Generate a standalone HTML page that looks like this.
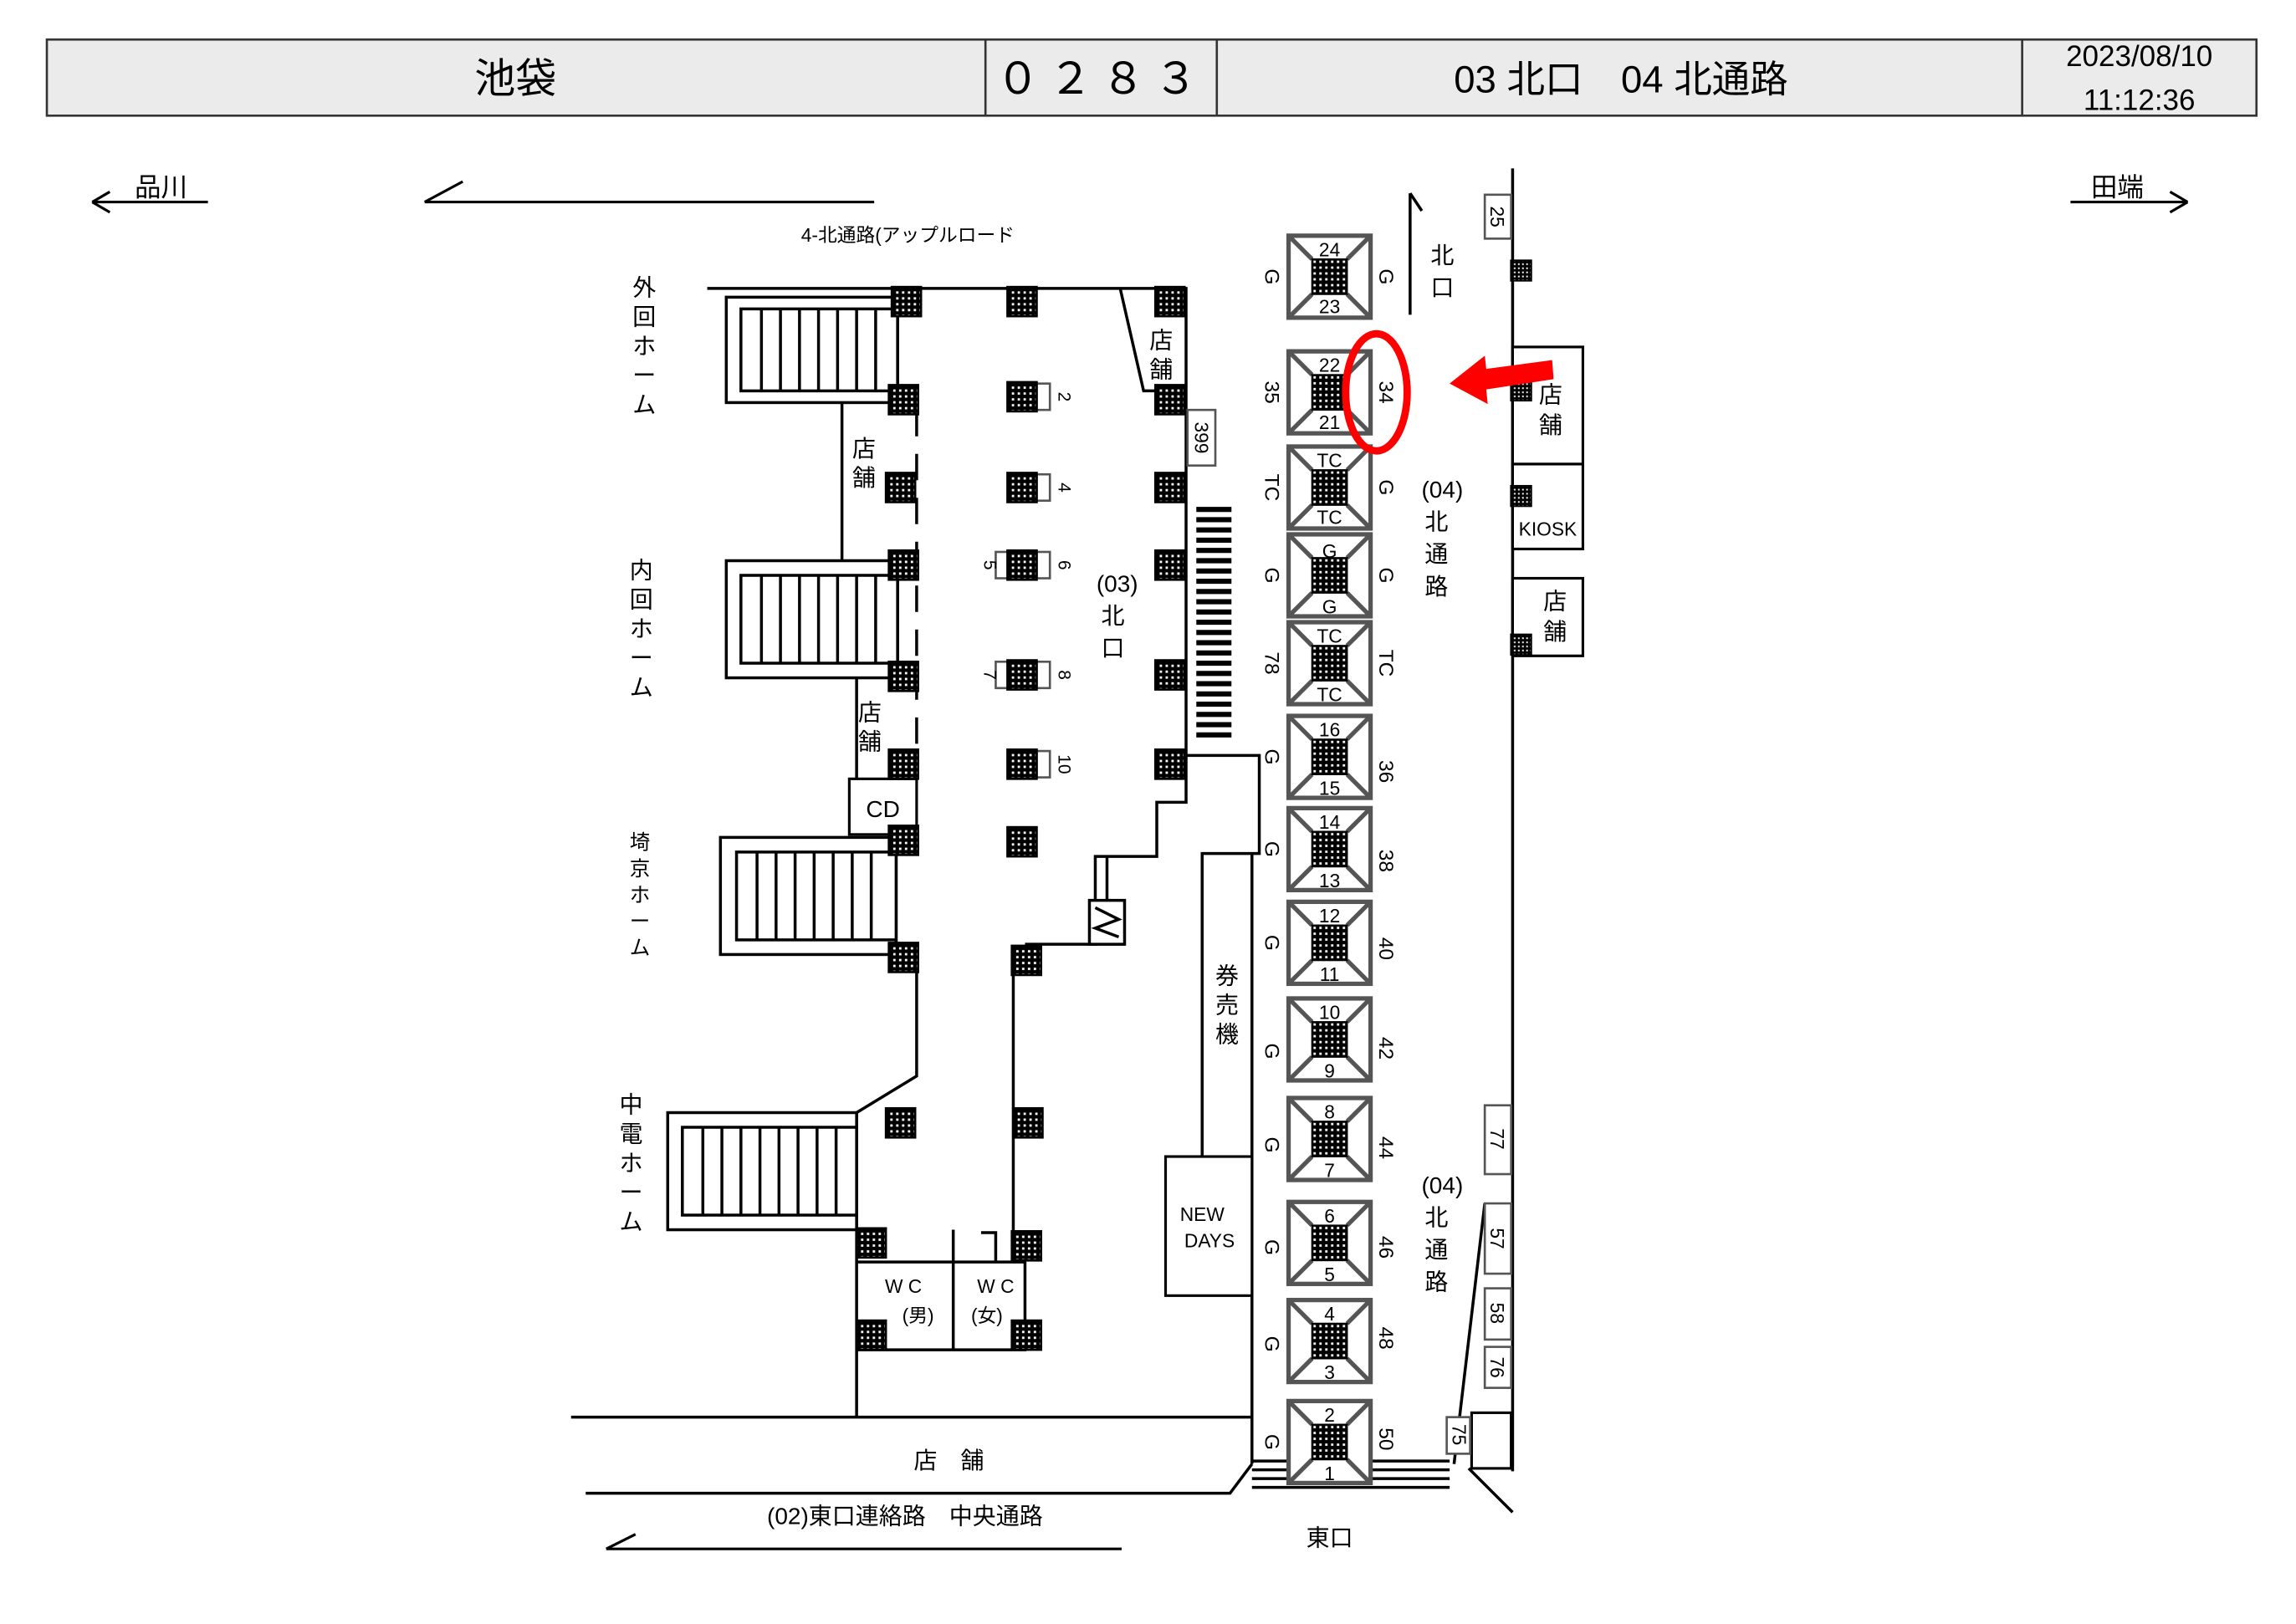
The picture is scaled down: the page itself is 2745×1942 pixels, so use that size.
<!DOCTYPE html>
<html><head><meta charset="utf-8"><style>
html,body{margin:0;padding:0;background:#fff}
svg{display:block}
text{font-family:"Liberation Sans","Noto Sans CJK JP",sans-serif;fill:#000}
</style></head><body>
<svg width="2745" height="1942" viewBox="0 0 1568 1109.3" preserveAspectRatio="none" xmlns="http://www.w3.org/2000/svg">
<defs>
<pattern id="dots" width="4" height="4" patternUnits="userSpaceOnUse"><rect width="4" height="4" fill="#000"/><rect x="1" y="1" width="1.6" height="1.6" fill="#fff"/></pattern>
<g id="p"><rect x="-10" y="-10" width="20" height="20" fill="url(#dots)" stroke="#000" stroke-width="1.5"/></g>
<g id="esc">
<rect x="-28" y="-28" width="56" height="56" fill="#fff" stroke="#555" stroke-width="3"/>
<path d="M-28,-28 L-12,-12 M28,-28 L12,-12 M-28,28 L-12,12 M28,28 L12,12" stroke="#555" stroke-width="3"/>
<rect x="-12" y="-12" width="24" height="24" fill="url(#dots)" stroke="#000"/>
</g>
</defs>
<rect width="1568" height="1109.3" fill="#fff"/>
<!-- header -->
<rect x="32" y="27" width="1509" height="52" fill="#ebebeb" stroke="#333" stroke-width="1.5"/>
<path d="M673,27V79M831,27V79M1381,27V79" stroke="#333" stroke-width="1.5"/>
<text x="352" y="63" font-size="28" text-anchor="middle">池袋</text>
<text x="752" y="64" font-size="30" text-anchor="middle" letter-spacing="6">０２８３</text>
<text x="1107" y="63" font-size="26" text-anchor="middle">03 北口　04 北通路</text>
<text x="1461" y="45" font-size="20" text-anchor="middle">2023/08/10</text>
<text x="1461" y="75" font-size="20" text-anchor="middle">11:12:36</text>
<!-- top direction -->
<g stroke="#000" stroke-width="1.8" fill="none">
<path d="M63,138H142M63,138l12,-7M63,138l12,7"/>
<path d="M1414,138H1494M1494,138l-12,-7M1494,138l-12,7"/>
<path d="M290,138H597M290,138l26,-14"/>
<path d="M414,1058H766M414,1058l20,-10"/>
</g>
<text x="110" y="134" font-size="18" text-anchor="middle">品川</text>
<text x="1446" y="134" font-size="18" text-anchor="middle">田端</text>
<text x="620" y="165" font-size="13" text-anchor="middle">4-北通路(アップルロード</text>
<!-- walls -->
<g stroke="#000" stroke-width="2" fill="none">
<path d="M483,197H810V516"/>
<path d="M765,197L781,267H810"/>
<path d="M575,275V383M585,463V540M626,652V735L585,760V968M390,968H855"/>
<path d="M692,660V850M700,645H748V585H790V548H810V516"/>
<path d="M810,516H860V583H821V790M855,583V1000"/>
<path d="M400,1020H840L855,1000"/>
<path d="M585,862H700V922H585M651,840V922M630,862H680M670,842H680V862"/>
<path d="M1033,115V1005M963,132V215M963,132l8,12"/>
<path d="M1014,822L993,1000M1003,1003L1033,1033"/>
</g>
<path d="M626,280V520" stroke="#000" stroke-width="2" stroke-dasharray="18,12"/>
<!-- boxes -->
<g stroke="#000" stroke-width="1.8" fill="#fff">
<rect x="580" y="532" width="46" height="38"/>
<rect x="796" y="790" width="59" height="95"/>
<rect x="1033" y="237" width="48" height="80"/>
<rect x="1033" y="317" width="48" height="58"/>
<rect x="1033" y="395" width="48" height="53"/>
<rect x="1005" y="965" width="27" height="38"/>
</g>
<g stroke="#555" stroke-width="1.5" fill="#fff">
<rect x="811" y="280" width="19" height="38"/>
<rect x="1014" y="133" width="18" height="30"/>
<rect x="1014" y="755" width="18" height="47"/>
<rect x="1014" y="822" width="18" height="48"/>
<rect x="1014" y="880" width="18" height="35"/>
<rect x="1014" y="920" width="18" height="28"/>
<rect x="988" y="968" width="16" height="25"/>
</g>
<g font-size="13">
<text transform="translate(816,299) rotate(90)" text-anchor="middle">399</text>
<text transform="translate(1018,148) rotate(90)" text-anchor="middle">25</text>
<text transform="translate(1018,778) rotate(90)" text-anchor="middle">77</text>
<text transform="translate(1018,846) rotate(90)" text-anchor="middle">57</text>
<text transform="translate(1018,897) rotate(90)" text-anchor="middle">58</text>
<text transform="translate(1018,934) rotate(90)" text-anchor="middle">76</text>
<text transform="translate(992,980) rotate(90)" text-anchor="middle">75</text>
</g>
<!-- stairs blocks -->
<g stroke="#000" stroke-width="2" fill="#fff">
<rect x="496" y="203" width="117" height="72"/><rect x="506" y="211" width="107" height="56"/>
<rect x="496" y="383" width="117" height="80"/><rect x="506" y="393" width="107" height="60"/>
<rect x="492" y="572" width="120" height="80"/><rect x="503" y="582" width="109" height="60"/>
<rect x="456" y="760" width="129" height="80"/><rect x="466" y="770" width="119" height="60"/>
</g>
<g stroke="#000" stroke-width="2">
<path d="M520,211V267M533,211V267M546,211V267M559,211V267M572,211V267M585,211V267M598,211V267"/>
<path d="M520,393V453M533,393V453M546,393V453M559,393V453M572,393V453M585,393V453M598,393V453"/>
<path d="M517,582V642M530,582V642M543,582V642M556,582V642M569,582V642M582,582V642M595,582V642"/>
<path d="M480,770V830M493,770V830M506,770V830M519,770V830M532,770V830M545,770V830M558,770V830M571,770V830"/>
</g>
<!-- crosswalk -->
<g stroke="#000" stroke-width="3.5">
<path d="M817,348H841M817,355H841M817,362H841M817,369H841M817,376H841M817,383H841M817,390H841M817,397H841M817,404H841M817,411H841M817,418H841M817,425H841M817,432H841M817,439H841M817,446H841M817,453H841M817,460H841M817,467H841M817,474H841M817,481H841M817,488H841M817,495H841M817,502H841"/>
<path d="M855,998H990M855,1004H990M855,1010H990M855,1016H990" stroke-width="2"/>
</g>
<g stroke="#555" stroke-width="1.5" fill="#fff">
<rect x="708" y="262" width="9" height="18"/><rect x="708" y="324" width="9" height="18"/>
<rect x="708" y="377" width="9" height="18"/><rect x="680" y="377" width="9" height="18"/>
<rect x="708" y="452" width="9" height="18"/><rect x="680" y="452" width="9" height="18"/>
<rect x="708" y="513" width="9" height="18"/>
</g>
<g font-size="12">
<text transform="translate(723,271) rotate(90)" text-anchor="middle">2</text>
<text transform="translate(723,333) rotate(90)" text-anchor="middle">4</text>
<text transform="translate(723,386) rotate(90)" text-anchor="middle">6</text>
<text transform="translate(672,386) rotate(90)" text-anchor="middle">5</text>
<text transform="translate(723,461) rotate(90)" text-anchor="middle">8</text>
<text transform="translate(672,461) rotate(90)" text-anchor="middle">7</text>
<text transform="translate(723,522) rotate(90)" text-anchor="middle">10</text>
</g>
<rect x="744" y="615" width="24" height="30" fill="#fff" stroke="#000" stroke-width="2"/>
<path d="M748,620L764,628L748,634L764,640M756,585V615" stroke="#000" stroke-width="2" fill="none"/>
<!-- pillars -->
<use href="#p" x="619" y="206"/><use href="#p" x="617" y="273"/><use href="#p" x="615" y="333"/><use href="#p" x="617" y="386"/><use href="#p" x="617" y="462"/><use href="#p" x="617" y="522"/><use href="#p" x="617" y="574"/><use href="#p" x="617" y="654"/><use href="#p" x="615" y="767"/><use href="#p" x="595" y="849"/><use href="#p" x="595" y="912"/>
<use href="#p" x="698" y="206"/><use href="#p" x="698" y="271"/><use href="#p" x="698" y="333"/><use href="#p" x="698" y="386"/><use href="#p" x="698" y="461"/><use href="#p" x="698" y="522"/><use href="#p" x="698" y="575"/><use href="#p" x="701" y="656"/><use href="#p" x="702" y="767"/><use href="#p" x="701" y="851"/><use href="#p" x="701" y="912"/>
<use href="#p" x="799" y="206"/><use href="#p" x="799" y="273"/><use href="#p" x="799" y="333"/><use href="#p" x="799" y="386"/><use href="#p" x="799" y="461"/><use href="#p" x="799" y="522"/>
<g transform="scale(0.7)"><use href="#p" x="1484" y="264"/><use href="#p" x="1484" y="381"/><use href="#p" x="1484" y="484"/><use href="#p" x="1484" y="629"/></g>
<!-- escalators -->
<use href="#esc" x="908" y="189"/><use href="#esc" x="908" y="268"/><use href="#esc" x="908" y="333"/><use href="#esc" x="908" y="393"/><use href="#esc" x="908" y="453"/><use href="#esc" x="908" y="517"/><use href="#esc" x="908" y="580"/><use href="#esc" x="908" y="644"/><use href="#esc" x="908" y="710"/><use href="#esc" x="908" y="778"/><use href="#esc" x="908" y="849"/><use href="#esc" x="908" y="916"/><use href="#esc" x="908" y="985"/>
<g font-size="13" text-anchor="middle">
<text x="908" y="175">24</text><text x="908" y="214">23</text>
<text x="908" y="254">22</text><text x="908" y="293">21</text>
<text x="908" y="319">TC</text><text x="908" y="358">TC</text>
<text x="908" y="381">G</text><text x="908" y="419">G</text>
<text x="908" y="439">TC</text><text x="908" y="479">TC</text>
<text x="908" y="503">16</text><text x="908" y="543">15</text>
<text x="908" y="566">14</text><text x="908" y="606">13</text>
<text x="908" y="630">12</text><text x="908" y="670">11</text>
<text x="908" y="696">10</text><text x="908" y="736">9</text>
<text x="908" y="764">8</text><text x="908" y="804">7</text>
<text x="908" y="835">6</text><text x="908" y="875">5</text>
<text x="908" y="902">4</text><text x="908" y="942">3</text>
<text x="908" y="971">2</text><text x="908" y="1011">1</text>
</g>
<g font-size="14" text-anchor="middle">
<text transform="translate(864,189) rotate(90)">G</text><text transform="translate(942,189) rotate(90)">G</text>
<text transform="translate(864,268) rotate(90)">35</text><text transform="translate(942,268) rotate(90)">34</text>
<text transform="translate(864,333) rotate(90)">TC</text><text transform="translate(942,333) rotate(90)">G</text>
<text transform="translate(864,393) rotate(90)">G</text><text transform="translate(942,393) rotate(90)">G</text>
<text transform="translate(864,453) rotate(90)">78</text><text transform="translate(942,453) rotate(90)">TC</text>
<text transform="translate(864,517) rotate(90)">G</text><text transform="translate(942,527) rotate(90)">36</text>
<text transform="translate(864,580) rotate(90)">G</text><text transform="translate(942,588) rotate(90)">38</text>
<text transform="translate(864,644) rotate(90)">G</text><text transform="translate(942,648) rotate(90)">40</text>
<text transform="translate(864,718) rotate(90)">G</text><text transform="translate(942,716) rotate(90)">42</text>
<text transform="translate(864,782) rotate(90)">G</text><text transform="translate(942,784) rotate(90)">44</text>
<text transform="translate(864,852) rotate(90)">G</text><text transform="translate(942,852) rotate(90)">46</text>
<text transform="translate(864,918) rotate(90)">G</text><text transform="translate(942,914) rotate(90)">48</text>
<text transform="translate(864,985) rotate(90)">G</text><text transform="translate(942,983) rotate(90)">50</text>
</g>
<!-- labels -->
<g font-size="16" text-anchor="middle">
<text x="440" y="202">外</text><text x="440" y="222">回</text><text x="440" y="242">ホ</text><text x="440" y="262">ー</text><text x="440" y="282">ム</text>
<text x="438" y="395">内</text><text x="438" y="415">回</text><text x="438" y="435">ホ</text><text x="438" y="455">ー</text><text x="438" y="475">ム</text>
<g font-size="14"><text x="437" y="580">埼</text><text x="437" y="598">京</text><text x="437" y="616">ホ</text><text x="437" y="634">ー</text><text x="437" y="652">ム</text></g>
<text x="431" y="760">中</text><text x="431" y="780">電</text><text x="431" y="800">ホ</text><text x="431" y="820">ー</text><text x="431" y="840">ム</text>
<text x="590" y="312">店</text><text x="590" y="332">舗</text>
<text x="594" y="492">店</text><text x="594" y="512">舗</text>
<text x="793" y="238">店</text><text x="793" y="258">舗</text>
<text x="603" y="558">CD</text>
<text x="763" y="404">(03)</text><text x="760" y="426">北</text><text x="760" y="448">口</text>
<text x="838" y="672">券</text><text x="838" y="692">売</text><text x="838" y="712">機</text>
<text x="985" y="180">北</text><text x="985" y="202">口</text>
<text x="985" y="340">(04)</text><text x="981" y="362">北</text><text x="981" y="384">通</text><text x="981" y="406">路</text>
<text x="985" y="815">(04)</text><text x="981" y="837">北</text><text x="981" y="859">通</text><text x="981" y="881">路</text>
<text x="1059" y="275">店</text><text x="1059" y="296">舗</text>
<text x="1062" y="416">店</text><text x="1062" y="437">舗</text>
<text x="648" y="1003">店　舗</text>
<text x="618" y="1041">(02)東口連絡路　中央通路</text>
<text x="908" y="1056">東口</text>
</g>
<g font-size="13" text-anchor="middle">
<text x="1057" y="366">KIOSK</text>
<text x="821" y="834">NEW</text><text x="826" y="852">DAYS</text>
<text x="617" y="883">W C</text><text x="627" y="903">(男)</text>
<text x="680" y="883">W C</text><text x="674" y="903">(女)</text>
</g>
<!-- red markers -->
<ellipse cx="940" cy="268" rx="21" ry="40" fill="none" stroke="#f00" stroke-width="5"/>
<path d="M1060,246L1015,252L1014,243L990,262L1016,276L1015,266L1061,259Z" fill="#f00"/>
</svg>
</body></html>
